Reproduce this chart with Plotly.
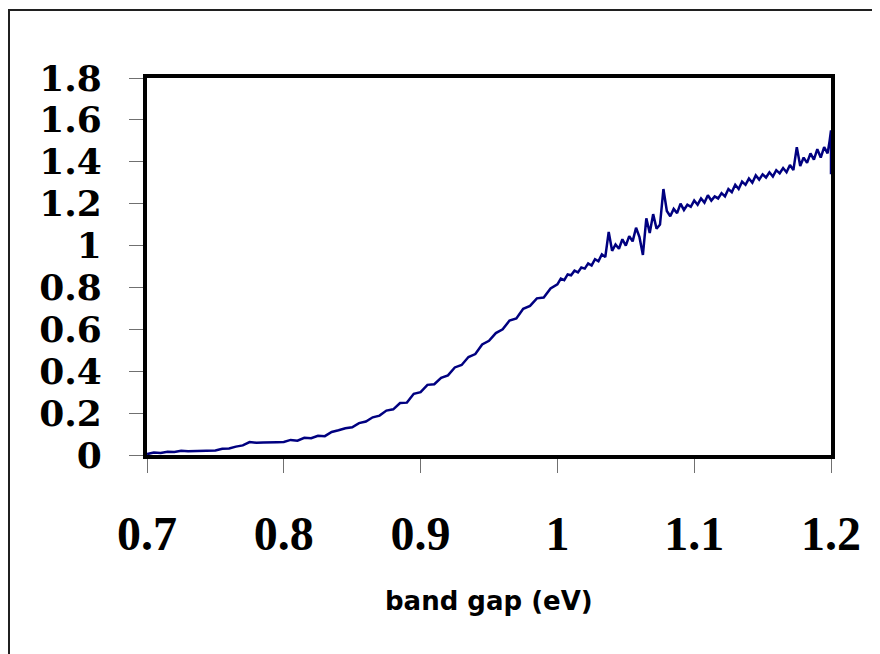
import plotly.graph_objects as go

# band gap (eV) sample positions
band_gap = [
    0.700, 0.705, 0.710, 0.715, 0.720, 0.725, 0.730, 0.735, 0.740, 0.745,
    0.750, 0.755, 0.760, 0.765, 0.770, 0.775, 0.780, 0.785, 0.790, 0.795,
    0.800, 0.805, 0.810, 0.815, 0.820, 0.825, 0.830, 0.835, 0.840, 0.845,
    0.850, 0.855, 0.860, 0.865, 0.870, 0.875, 0.880, 0.885, 0.890, 0.895,
    0.900, 0.905, 0.910, 0.915, 0.920, 0.925, 0.930, 0.935, 0.940, 0.945,
    0.950, 0.955, 0.960, 0.965, 0.970, 0.975, 0.980, 0.985, 0.990, 0.995,
    1.0000, 1.0025, 1.0050, 1.0075, 1.0100, 1.0125, 1.0150, 1.0175, 1.0200, 1.0225,
    1.0250, 1.0275, 1.0300, 1.0325, 1.0350, 1.0375, 1.0400, 1.0425, 1.0450, 1.0475,
    1.0500, 1.0525, 1.0550, 1.0575, 1.0600, 1.0625, 1.0650, 1.0675, 1.0700, 1.0725,
    1.0750, 1.0775, 1.0800, 1.0825, 1.0850, 1.0875, 1.0900, 1.0925, 1.0950, 1.0975,
    1.1000, 1.1025, 1.1050, 1.1075, 1.1100, 1.1125, 1.1150, 1.1175, 1.1200, 1.1225,
    1.1250, 1.1275, 1.1300, 1.1325, 1.1350, 1.1375, 1.1400, 1.1425, 1.1450, 1.1475,
    1.1500, 1.1525, 1.1550, 1.1575, 1.1600, 1.1625, 1.1650, 1.1675, 1.1700, 1.1725,
    1.1750, 1.1775, 1.1800, 1.1825, 1.1850, 1.1875, 1.1900, 1.1925, 1.1950, 1.1975,
    1.1990, 1.2000, 1.2000,
]

signal = [
    0.004, 0.012, 0.010, 0.016, 0.014, 0.020, 0.018, 0.019, 0.020, 0.021,
    0.022, 0.030, 0.031, 0.040, 0.046, 0.062, 0.058, 0.060, 0.059, 0.061,
    0.062, 0.072, 0.068, 0.082, 0.080, 0.092, 0.090, 0.110, 0.118, 0.128,
    0.132, 0.152, 0.160, 0.180, 0.188, 0.212, 0.218, 0.248, 0.250, 0.292,
    0.300, 0.335, 0.338, 0.368, 0.380, 0.418, 0.430, 0.468, 0.482, 0.528,
    0.545, 0.582, 0.600, 0.642, 0.652, 0.698, 0.712, 0.748, 0.752, 0.795,
    0.815, 0.842, 0.835, 0.862, 0.858, 0.880, 0.872, 0.895, 0.890, 0.915,
    0.905, 0.935, 0.925, 0.958, 0.945, 1.065, 0.975, 1.005, 0.985, 1.030,
    1.000, 1.045, 1.020, 1.085, 1.040, 0.955, 1.130, 1.060, 1.150, 1.080,
    1.100, 1.270, 1.165, 1.140, 1.175, 1.155, 1.200, 1.170, 1.195, 1.185,
    1.215, 1.195, 1.225, 1.205, 1.240, 1.215, 1.235, 1.225, 1.250, 1.235,
    1.270, 1.255, 1.290, 1.270, 1.305, 1.290, 1.320, 1.300, 1.335, 1.315,
    1.340, 1.325, 1.350, 1.330, 1.360, 1.345, 1.370, 1.350, 1.385, 1.360,
    1.470, 1.380, 1.420, 1.395, 1.440, 1.410, 1.460, 1.420, 1.470, 1.440,
    1.500, 1.550, 1.340,
]

x_ticks = [0.7, 0.8, 0.9, 1.0, 1.1, 1.2]
x_labels = ["0.7", "0.8", "0.9", "1", "1.1", "1.2"]
y_ticks = [0, 0.2, 0.4, 0.6, 0.8, 1.0, 1.2, 1.4, 1.6, 1.8]
y_labels = ["0", "0.2", "0.4", "0.6", "0.8", "1", "1.2", "1.4", "1.6", "1.8"]

# the page has an 8px body margin, so the figure is 8px smaller
W, H = 872, 646
L, R, T, B = 139, 49, 70, 199
pw, ph = W - L - R, H - T - B
bottom_y = H - B

fig = go.Figure()
fig.add_trace(go.Scatter(
    x=band_gap, y=signal, mode="lines",
    line=dict(color="#000080", width=2.5),
    showlegend=False, hoverinfo="skip",
))

fig.update_layout(
    width=W, height=H,
    margin=dict(l=L, r=R, t=T, b=B, pad=0),
    paper_bgcolor="white", plot_bgcolor="white",
    xaxis=dict(
        range=[0.7, 1.2], tickmode="array", tickvals=x_ticks, ticktext=x_labels,
        showgrid=False, zeroline=False,
        showline=True, linecolor="black", linewidth=4, mirror=True,
        ticks="outside", ticklen=14, tickwidth=1, tickcolor="#707070",
        tickfont=dict(family="Liberation Serif, Times New Roman, serif",
                      size=48, color="black", weight="bold"),
        ticklabelstandoff=19,
    ),
    yaxis=dict(
        range=[0, 1.8], tickmode="array", tickvals=y_ticks, ticktext=y_labels,
        showgrid=False, zeroline=False,
        showline=True, linecolor="black", linewidth=4, mirror=True,
        ticks="outside", ticklen=14, tickwidth=1, tickcolor="#707070",
        tickfont=dict(family="DejaVu Serif, serif", size=36, color="black", weight="bold"),
        ticklabelstandoff=20,
    ),
    annotations=[dict(
        text="band gap (eV)", xref="paper", yref="paper",
        x=0.5, y=(bottom_y - 593) / ph, xanchor="center", yanchor="middle",
        showarrow=False,
        font=dict(family="DejaVu Sans, Arial, sans-serif", size=26, color="black", weight="bold"),
    )],
    shapes=[dict(
        type="rect", xref="paper", yref="paper",
        x0=(1 - L) / pw, x1=(W + 20 - L) / pw,
        y0=(bottom_y - (H + 20)) / ph, y1=(bottom_y - 2) / ph,
        line=dict(color="#202020", width=2), fillcolor="rgba(0,0,0,0)",
        layer="above",
    )],
)

fig.write_html("out.html")
